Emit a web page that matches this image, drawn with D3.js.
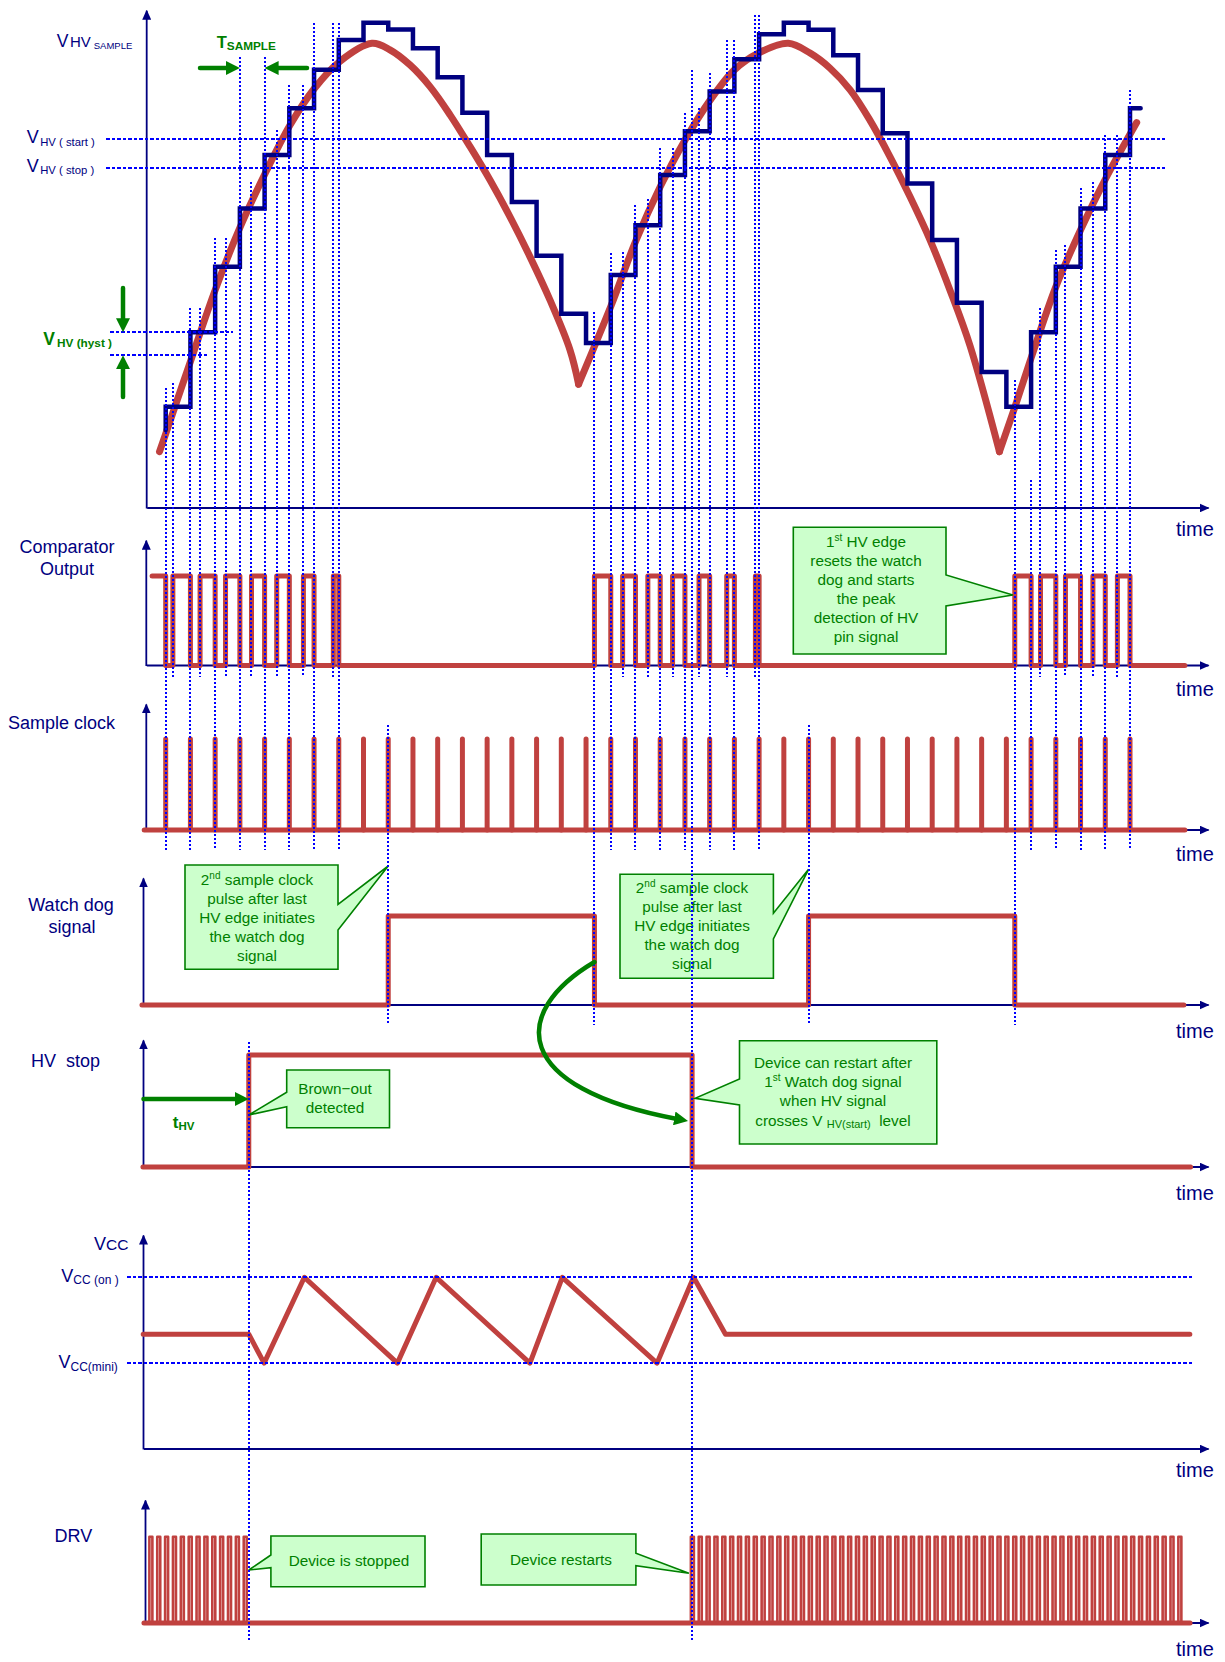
<!DOCTYPE html>
<head>
<meta charset="utf-8">
</head>
<style type="text/css">
  body { margin: 0; background: #fff; }
  svg { display: block; font-family: Arial, "Liberation Sans", sans-serif; }
  .axis path.domain { stroke: #000080; stroke-width: 1.8; }
  .guide { stroke: #0000ff; stroke-width: 2; stroke-dasharray: 2 2; fill: none; shape-rendering: crispEdges; }
  .hguide { stroke-dasharray: 3.5 2; }
  .sig { stroke: #c0413f; stroke-width: 5; fill: none; stroke-linejoin: round; stroke-linecap: round; }
  .hv { stroke-width: 7; }
  .stair { stroke: #000080; stroke-width: 4.5; fill: none; stroke-linejoin: miter; stroke-linecap: round; }
  .name { fill: #000080; font-size: 18px; }
  .time { fill: #000080; font-size: 20px; }
  .glbl { fill: #008000; }
  .note { fill: #008000; font-size: 15.3px; text-anchor: middle; }
  .callout { fill: #ccffcc; stroke: #008000; stroke-width: 1.6; }
  .garrow { stroke: #008000; stroke-width: 4.5; fill: none; stroke-linecap: round; }
</style>
<body>
<script src="https://d3js.org/d3.v7.min.js"></script>
<script>

// one time unit = one sample clock period, sample k sits at t = k
var sampleTimes = [0, 1, 2, 3, 4, 5, 6, 7, 8, 9, 10, 11, 12, 13, 14, 15, 16, 17, 18, 19,
                   20, 21, 22, 23, 24, 25, 26, 27, 28, 29, 30, 31, 32, 33, 34, 35, 36, 37, 38, 39];

// sampled HV (staircase): level before the first sample, then the level held after each sample
var stairFirst = 5.4;
var stairLevels = [11.1, 29.3, 45.3, 59.6, 72.7, 84.1, 93.5, 100.8, 105, 103.4,
                   98.8, 91.7, 83, 72.7, 61.2, 48, 33.8, 26.7, 43.3, 55.5,
                   67.8, 78.5, 88.2, 96.1, 102.2, 105, 103.3, 97.1, 88.6, 78,
                   65.7, 51.9, 36.5, 19.6, 11.1, 29.3, 45.3, 59.6, 72.7, 84.1];
var stairStop = 39.43;

// HV pin signal, [time, level] read along each arch
var hvArch1 = [[-0.25, 0.1], [0.01, 4.6], [1.02, 22.5], [2.0, 39.6], [3.01, 55], [4.05, 68.5],
               [5.03, 80], [6.02, 89], [7.03, 95.5], [8.34, 100], [9.07, 98.4], [9.88, 94.7],
               [10.69, 89.4], [11.5, 82.5], [12.31, 74.7], [13.11, 66.6], [13.92, 57.6],
               [14.73, 47.8], [15.54, 37.2], [16.35, 25], [16.7, 16.6]];
var hvArch2 = [[16.7, 16.6], [18.0, 35.6], [19.03, 51.9], [20.0, 64.9], [21.0, 76.3], [22.02, 86.1],
               [23.0, 93.5], [23.97, 97.6], [25.18, 100], [26.06, 97.6], [26.87, 93.9], [27.68, 88.6],
               [28.48, 81.2], [29.29, 72.3], [30.1, 62.5], [30.91, 51.9], [31.72, 39.6],
               [32.53, 26], [33.72, 0.1]];
var hvArch3 = [[33.72, 0.1], [34.35, 11.1], [35.0, 23], [36.0, 40.4], [37.0, 54.3], [37.99, 66.6], [39.27, 80.6]];

var vhvStart = 76.5, vhvStop = 69.6;
var vhvHyst = [29.3, 23.7];

// comparator output edges
var compStart = -0.55, compEnd = 41.22;
var compRise = [0.29, 1.39, 2.42, 3.47, 4.49, 5.57, 6.78,
                17.34, 18.48, 19.5, 20.5, 21.57, 22.69, 23.85,
                34.34, 35.38, 36.39, 37.5, 38.49];
var compFall = [0, 1, 2, 3, 4, 5, 6, 7,
                18, 19, 20, 21, 22, 23, 24,
                35, 36, 37, 38, 39];

var clkStart = -0.87, clkEnd = 41.22;

// watch dog
var wdStart = -0.96, wdEnd = 41.18;
var wdRise = [9, 26];
var wdFall = [17.34, 34.34];

// HV stop
var stopStart = -0.92, stopEnd = 41.45;
var stopRise = [3.36];
var stopFall = [21.29];

// Vcc
var vccT = [-0.91, 3.36, 3.98, 5.61, 9.37, 10.94, 14.73, 16.04, 19.87, 21.35, 22.64, 41.42];
var vccV = [9.35, 9.35, 8, 12, 8, 12, 8, 12, 8, 12, 9.35, 9.35];
var vccOn = 12, vccMini = 8;

// DRV bursts
var drvStart = -0.88, drvEnd = 41.43;
var drvBurstStart = [-0.66, 21.24];
var drvBurstStop = [3.2, 41.0];
var drvPeriod = 0.318;

// dotted guides: top of each guide in HV units
var sampleGuideT   = [0, 1, 2, 3, 4, 5, 6, 7, 18, 19, 20, 21, 22, 23, 24, 35, 36, 37, 38, 39];
var sampleGuideTop = [15.7, 35.2, 52.4, 96.6, 96.6, 89.8, 105, 105,
                      48.7, 60.4, 74.4, 82.9, 92.7, 100.8, 106.9,
                      -6.9, 49.4, 64.6, 77.6, 88.6];
var edgeGuideTop   = [16.9, 35.2, 52.4, 66.1, 78.8, 89.8, 105,
                      34.3, 48.9, 61.9, 74.4, 84.2, 100.8, 106.9,
                      17.6, 35.2, 50.6, 66.1, 77.6];

var svg = d3.select("body").append("svg")
    .attr("width", 1225)
    .attr("height", 1662);

var defs = svg.append("defs");
defs.append("marker").attr("id", "headNavy")
    .attr("viewBox", "0 0 10 9").attr("refX", 9).attr("refY", 4.5)
    .attr("markerWidth", 10).attr("markerHeight", 9)
    .attr("markerUnits", "userSpaceOnUse").attr("orient", "auto")
  .append("path").attr("d", "M0,0L10,4.5L0,9Z").attr("fill", "#000080");
defs.append("marker").attr("id", "headGreen")
    .attr("viewBox", "0 0 14 14").attr("refX", 4.2).attr("refY", 7)
    .attr("markerWidth", 14).attr("markerHeight", 14)
    .attr("markerUnits", "userSpaceOnUse").attr("orient", "auto")
  .append("path").attr("d", "M0,0L14,7L0,14Z").attr("fill", "#008000");

var x = d3.scaleLinear().domain([0, 39]).range([165.7, 1130]);

var hvY   = d3.scaleLinear().domain([0, 100]).range([452, 43.3]);
var compY = d3.scaleLinear().domain([0, 1]).range([665.5, 576]);
var clkY  = d3.scaleLinear().domain([0, 1]).range([830, 739]);
var wdY   = d3.scaleLinear().domain([0, 1]).range([1005, 916]);
var stopY = d3.scaleLinear().domain([0, 1]).range([1167, 1055]);
var vccY  = d3.scaleLinear().domain([4, 12]).range([1449, 1277.3]);
var drvY  = d3.scaleLinear().domain([0, 1]).range([1623, 1536.7]);

var AXIS_END = 1208;

function axes(yScale, lo, hi, ax) {
    var xs = d3.scaleLinear().domain([x.invert(ax), x.invert(AXIS_END)]).range([ax, AXIS_END]);
    var ys = d3.scaleLinear().domain([lo, hi]).range([yScale(lo), yScale(hi)]);
    var gx = svg.append("g").attr("class", "axis")
        .attr("transform", "translate(0," + (yScale(lo) - 0.5) + ")")
        .call(d3.axisBottom(xs).tickValues([]).tickSizeOuter(0));
    var gy = svg.append("g").attr("class", "axis")
        .attr("transform", "translate(" + (ax - 0.5) + ",0)")
        .call(d3.axisLeft(ys).tickValues([]).tickSizeOuter(0));
    gx.select(".domain").attr("marker-end", "url(#headNavy)");
    gy.select(".domain").attr("marker-end", "url(#headNavy)");
}

axes(hvY, -13.7, 108.1, 146.7);
axes(compY, 0, 1.4, 146.3);
axes(clkY, 0, 1.385, 146.3);
axes(wdY, 0, 1.427, 143.5);
axes(stopY, 0, 1.134, 143.5);
axes(vccY, 4, 13.97, 143.5);
axes(drvY, 0, 1.425, 145.5);

function stepLine(yScale) {
    return d3.line()
        .x(function(d) { return x(d[0]); })
        .y(function(d) { return yScale(d[1]); })
        .curve(d3.curveStepAfter);
}

// turn edge lists into [time, level] points
function edges(start, startLevel, rises, falls, end) {
    var ev = rises.map(function(t) { return [t, 1]; })
        .concat(falls.map(function(t) { return [t, 0]; }));
    ev.sort(function(a, b) { return a[0] - b[0]; });
    var pts = [[start, startLevel]].concat(ev);
    pts.push([end, pts[pts.length - 1][1]]);
    return pts;
}

// ---- HV panel ----
var hvLine = d3.line()
    .x(function(d) { return x(d[0]); })
    .y(function(d) { return hvY(d[1]); })
    .curve(d3.curveCatmullRom.alpha(0.5));

[hvArch1, hvArch2, hvArch3].forEach(function(a) {
    svg.append("path").attr("class", "sig hv").attr("d", hvLine(a));
});

var stairPts = [[0, stairFirst]].concat(sampleTimes.map(function(t, i) { return [t, stairLevels[i]]; }));
stairPts.push([stairStop, stairLevels[stairLevels.length - 1]]);
svg.append("path").attr("class", "stair").attr("d", stepLine(hvY)(stairPts));

// ---- comparator ----
svg.append("path").attr("class", "sig")
    .attr("d", stepLine(compY)(edges(compStart, 1, compRise, compFall, compEnd)));

// ---- sample clock ----
svg.append("path").attr("class", "sig")
    .attr("d", stepLine(clkY)([[clkStart, 0], [clkEnd, 0]]));
svg.append("g").selectAll("line")
    .data(sampleTimes)
    .enter()
    .append("line")
    .attr("class", "sig")
    .attr("x1", function(d) { return x(d); })
    .attr("x2", function(d) { return x(d); })
    .attr("y1", clkY(0))
    .attr("y2", clkY(1));

// ---- watch dog ----
svg.append("path").attr("class", "sig")
    .attr("d", stepLine(wdY)(edges(wdStart, 0, wdRise, wdFall, wdEnd)));

// ---- HV stop ----
svg.append("path").attr("class", "sig")
    .attr("d", stepLine(stopY)(edges(stopStart, 0, stopRise, stopFall, stopEnd)));

// ---- Vcc ----
var vccLine = d3.line()
    .x(function(d, i) { return x(vccT[i]); })
    .y(function(d) { return vccY(d); });
svg.append("path").attr("class", "sig").attr("d", vccLine(vccV));

// ---- DRV ----
svg.append("path").attr("class", "sig")
    .attr("d", stepLine(drvY)([[drvStart, 0], [drvEnd, 0]]));
var drvPulses = [];
drvBurstStart.forEach(function(s, i) {
    drvPulses = drvPulses.concat(d3.range(s, drvBurstStop[i], drvPeriod));
});
svg.append("path").attr("class", "sig").style("stroke-width", 2.6)
    .attr("d", drvPulses.map(function(t) {
        return "M" + x(t) + "," + drvY(0) + "V" + drvY(1) + "h3V" + drvY(0);
    }).join(""));

// ---- callouts ----
function callout(b, side, p1, p2, tip) {
    var d;
    if (side === "right") {
        d = "M" + b[0] + "," + b[1] + "H" + b[2] + "V" + p1 + "L" + tip[0] + "," + tip[1] +
            "L" + b[2] + "," + p2 + "V" + b[3] + "H" + b[0] + "Z";
    } else {
        d = "M" + b[2] + "," + b[1] + "H" + b[0] + "V" + p1 + "L" + tip[0] + "," + tip[1] +
            "L" + b[0] + "," + p2 + "V" + b[3] + "H" + b[2] + "Z";
    }
    svg.append("path").attr("class", "callout").attr("d", d);
}

function rich(xp, yp, parts, cls, size) {
    var t = svg.append("text").attr("x", xp).attr("y", yp).attr("class", cls);
    if (size) t.attr("font-size", size);
    parts.forEach(function(p) {
        var s = t.append("tspan").text(p.s);
        if (p.size) s.attr("font-size", p.size);
        if (p.dx) s.attr("dx", p.dx);
        if (p.dy) s.attr("dy", p.dy);
        if (p.bold) s.attr("font-weight", "bold");
    });
    return t;
}

function noteLines(cx, ys, lines, size) {
    lines.forEach(function(l, i) {
        var parts = typeof l === "string" ? [{s: l}] : l;
        rich(cx, ys[i], parts, "note", size);
    });
}

callout([793.3, 527.3, 946, 654], "right", 575, 606, [x(34.34) - 2, 595]);
noteLines(866, [547, 566, 585, 604, 623, 642], [
    [{s: "1"}, {s: "st", size: 10, dy: -6}, {s: " HV edge", dy: 6}],
    "resets the watch", "dog and starts", "the peak", "detection of HV", "pin signal"]);

callout([185, 865, 338, 969.3], "right", 904.3, 930, [x(9), 866]);
noteLines(257, [885, 904, 923, 942, 961], [
    [{s: "2"}, {s: "nd", size: 10, dy: -6}, {s: " sample clock", dy: 6}],
    "pulse after last", "HV edge initiates", "the watch dog", "signal"]);

callout([620, 874.3, 773.4, 978.3], "right", 913.3, 939, [x(26), 869.3]);
noteLines(692, [893.3, 912, 931, 950, 969], [
    [{s: "2"}, {s: "nd", size: 10, dy: -6}, {s: " sample clock", dy: 6}],
    "pulse after last", "HV edge initiates", "the watch dog", "signal"]);

callout([286.7, 1070, 389.5, 1127.7], "left", 1092.3, 1106.7, [x(3.36), 1115]);
noteLines(335, [1094, 1113.3], ["Brown\u2212out", "detected"]);

callout([739.5, 1040.7, 936.8, 1144], "left", 1079, 1105, [x(21.29) + 3, 1098.3]);
noteLines(833, [1067.5, 1086.7, 1105.7, 1125.7], [
    "Device can restart after",
    [{s: "1"}, {s: "st", size: 10, dy: -6}, {s: " Watch dog signal", dy: 6}],
    "when HV signal",
    [{s: "crosses V "}, {s: "HV(start)", size: 11, dy: 2.5}, {s: "\u00a0\u00a0level", dy: -2.5}]], 14.8);

callout([270.9, 1536, 425, 1586.7], "left", 1555, 1567.7, [x(3.36), 1570]);
noteLines(349, [1566], ["Device is stopped"]);

callout([481.2, 1534, 635.9, 1585], "right", 1553.3, 1565.7, [x(21.24) - 2, 1573.3]);
noteLines(561, [1565], ["Device restarts"]);

// ---- dotted guides ----
function guide(x1, y1, x2, y2, cls) {
    svg.append("line").attr("class", "guide " + (cls || ""))
        .attr("x1", Math.round(x1)).attr("y1", y1).attr("x2", Math.round(x2)).attr("y2", y2);
}

guide(106, hvY(vhvStart), 1165, hvY(vhvStart), "hguide");
guide(106, hvY(vhvStop), 1165, hvY(vhvStop), "hguide");
guide(110, hvY(vhvHyst[0]), 233, hvY(vhvHyst[0]), "hguide");
guide(110, hvY(vhvHyst[1]), 208, hvY(vhvHyst[1]), "hguide");
guide(127.3, vccY(vccOn), 1193, vccY(vccOn), "hguide");
guide(127.3, vccY(vccMini), 1193, vccY(vccMini), "hguide");

sampleGuideT.forEach(function(t, i) {
    guide(x(t), hvY(sampleGuideTop[i]), x(t), 850);
});
compRise.forEach(function(t, i) {
    var bottom = wdFall.indexOf(t) >= 0 ? 1025 : 677;
    guide(x(t), hvY(edgeGuideTop[i]), x(t), bottom);
});
wdRise.forEach(function(t) { guide(x(t), 725, x(t), 1025); });
stopRise.forEach(function(t) { guide(x(t), 1042, x(t), 1642); });
stopFall.forEach(function(t) { guide(x(t), hvY(93.5), x(t), 1642); });

// ---- green arrows ----
function garrow(x1, y1, x2, y2) {
    var dx = x2 - x1, dy = y2 - y1, L = Math.sqrt(dx * dx + dy * dy);
    var ex = x2 - dx / L * 9.8, ey = y2 - dy / L * 9.8;
    svg.append("path").attr("class", "garrow")
        .attr("d", "M" + x1 + "," + y1 + "L" + ex + "," + ey)
        .attr("marker-end", "url(#headGreen)");
}

garrow(200, 68, x(3), 68);
garrow(307, 68, x(4), 68);
garrow(123, 288, 123, hvY(vhvHyst[0]));
garrow(123, 397, 123, hvY(vhvHyst[1]));
garrow(143.5, 1099, x(stopRise[0]), 1099);

svg.append("path").attr("class", "garrow")
    .attr("d", "M" + x(wdFall[0]) + ",962C510,1012 510,1088 678.4,1119.2")
    .attr("marker-end", "url(#headGreen)");

// ---- labels ----
rich(56.7, 46.7, [{s: "V", size: 17.5}, {s: "HV", size: 15, dx: 1.5}, {s: "SAMPLE", size: 9.5, dx: 3, dy: 2.5}], "name");
rich(26.7, 143.3, [{s: "V", size: 18}, {s: "HV ( start )", size: 11.3, dx: 1.5, dy: 2.5}], "name");
rich(26.7, 171.7, [{s: "V", size: 18}, {s: "HV ( stop )", size: 11.3, dx: 1.5, dy: 2.5}], "name");
rich(43.3, 345, [{s: "V", size: 17.5, bold: true}, {s: "HV (hyst )", size: 11.8, bold: true, dx: 2, dy: 1.7}], "glbl");
rich(216.7, 48.3, [{s: "T", size: 16.5, bold: true}, {s: "SAMPLE", size: 11.8, bold: true, dy: 1.7}], "glbl");
rich(172.8, 1128.3, [{s: "t", size: 17, bold: true}, {s: "HV", size: 11.5, bold: true, dy: 2}], "glbl");

rich(94.1, 1250, [{s: "V", size: 18}, {s: "CC", size: 15.5}], "name");
rich(61.3, 1281.7, [{s: "V", size: 18}, {s: "CC (on )", size: 12, dy: 2.5}], "name");
rich(58.5, 1368.3, [{s: "V", size: 18}, {s: "CC(mini)", size: 12, dy: 2.5}], "name");

svg.append("text").attr("class", "name").attr("x", 67).attr("y", 553).attr("font-size", 20.5)
    .attr("text-anchor", "middle").text("Comparator");
svg.append("text").attr("class", "name").attr("x", 67).attr("y", 575).attr("font-size", 20.5)
    .attr("text-anchor", "middle").text("Output");
svg.append("text").attr("class", "name").attr("x", 8).attr("y", 728.5).attr("font-size", 19.8)
    .text("Sample clock");
svg.append("text").attr("class", "name").attr("x", 71).attr("y", 911).attr("font-size", 20.4)
    .attr("text-anchor", "middle").text("Watch dog");
svg.append("text").attr("class", "name").attr("x", 72).attr("y", 932.5).attr("font-size", 20.4)
    .attr("text-anchor", "middle").text("signal");
svg.append("text").attr("class", "name").attr("x", 31).attr("y", 1066.7).attr("font-size", 18.8)
    .text("HV\u00a0\u00a0stop");
svg.append("text").attr("class", "name").attr("x", 54.5).attr("y", 1542).attr("font-size", 19)
    .text("DRV");

[536, 696, 861, 1038, 1200, 1477, 1656].forEach(function(yp) {
    svg.append("text").attr("class", "time").attr("x", 1176).attr("y", yp).text("time");
});

</script>
</body>
